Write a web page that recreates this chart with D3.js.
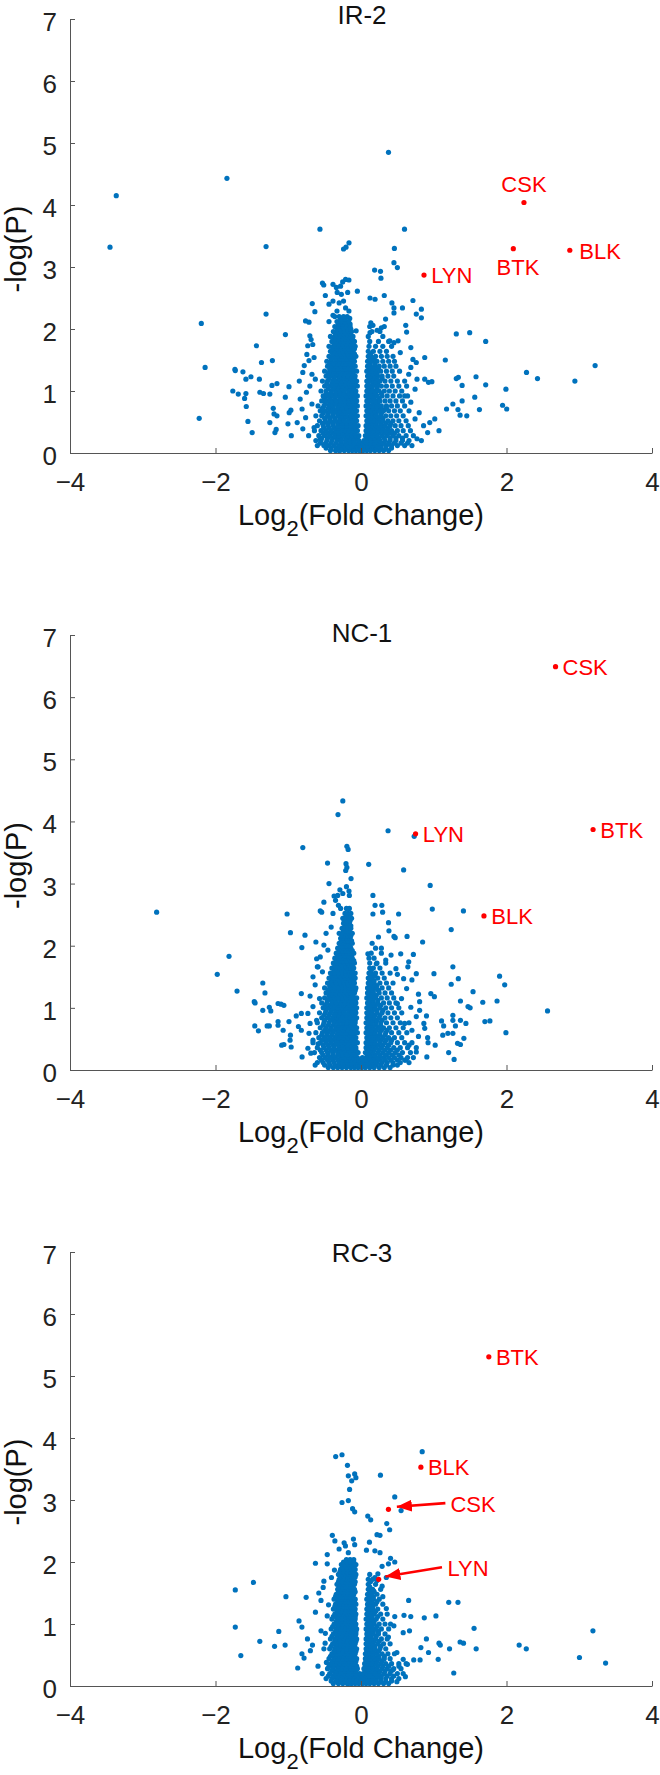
<!DOCTYPE html>
<html>
<head>
<meta charset="utf-8">
<script src="https://cdn.jsdelivr.net/npm/d3@7"></script>
<style>
  body { margin: 0; background: #fff; }
  text { font-family: "Liberation Sans", Arial, Helvetica, sans-serif; }
</style>
</head>
<body>
<div id="chart"></div>
<script>
// Axis ticks shared by all three panels
const xTicks = [-4, -2, 0, 2, 4];
const yTicks = [0, 1, 2, 3, 4, 5, 6, 7];

// ---------- IR-2 ----------
// scattered points [log2FC, -logP]
const ir2Scatter = [
  [-3.364,4.15],[-3.45,3.32],[-1.843,4.43],[0.378,4.85],[-0.564,3.61],[0.598,3.61],[-1.305,3.33],
  [-0.24,3.29],[-0.206,3.32],[-0.165,3.39],[0.459,3.30],[0.453,3.07],[0.5,2.99],[0.187,2.95],[0.268,2.93],[0.274,2.82],
  [-1.305,2.24],[-2.195,2.09],[-2.143,1.38],[-2.224,0.56],[-1.039,1.91],[-1.438,1.73],
  [1.31,1.92],[1.494,1.94],[1.714,1.80],[1.159,1.50],[0.876,1.54],[3.218,1.41],[2.275,1.30],[2.426,1.20],[2.94,1.16],
  [1.992,1.03],[2.003,0.71],[1.946,0.77],[1.714,1.10],[1.581,1.23],[1.564,0.90],[1.628,0.70],[1.39,1.09],[1.31,1.20],
  [1.338,1.22],[1.39,0.84],[1.263,0.79],[1.333,0.70],[1.362,0.61],[1.454,0.60],[1.176,0.71],[1.072,0.36],[0.974,1.15],
  [0.928,1.14],[0.876,1.19],[1.014,0.55],[0.945,0.49],
  [-1.762,1.00],[-1.687,0.95],[-1.733,1.35],[-1.728,1.33],[-1.623,1.31],[-1.582,1.19],[-1.513,1.23],[-1.582,0.96],
  [-1.6,0.88],[-1.577,0.75],[-1.554,0.51],[-1.496,0.33],[-1.397,1.19],[-1.368,1.46],[-1.39,0.98],[-1.34,0.96],
  [-1.218,1.49],[-1.253,0.95],[-1.224,1.09],[-1.155,1.12],[-1.206,0.72],[-1.195,0.63],[-1.155,0.60],[-1.253,0.49],
  [-1.166,0.38],[-1.183,0.33],[-1.004,0.47],[-0.987,0.65],[-0.964,0.69],[-1.04,0.90],[-0.99,1.07],[-0.958,0.28],
  [-0.848,1.16],[-0.81,0.71],[-0.762,2.13],[-0.715,2.11],[-0.67,2.41],[-0.634,2.28],
  [-0.53,2.74],[-0.512,2.71],[-0.385,2.72],[-0.339,2.67],[-0.281,2.69],[-0.252,2.76],[-0.212,2.80],[-0.166,2.79],
  [-0.327,2.59],[-0.27,2.56],[-0.183,2.59],[-0.49,2.54],[-0.44,2.40],[-0.385,2.45],[-0.3,2.42],[-0.24,2.45],
  [-0.212,2.34],[-0.166,2.29],[-0.05,2.61],[-0.155,2.17],[-0.067,1.97],[-0.385,2.22],[-0.33,2.29],
  [0.124,2.5],[0.193,2.48],[0.32,2.54],[0.425,2.42],[0.453,2.34],[0.453,2.26],[0.57,2.34],[0.714,2.46],[0.76,2.24],
  [0.83,2.32],[0.83,2.18],[0.28,2.02],[0.135,2.10],[0.164,2.06],[0.338,2.16],[0.615,2.06],[0.627,1.95],[0.124,1.94],
  [0.222,1.98],[0.396,1.81],[0.453,1.78],[0.51,1.81],[0.685,1.70],[0.54,1.62],[0.714,1.51],[0.76,1.46],[0.685,1.38],
  [0.656,1.27],[0.77,1.19],[0.627,1.08],[0.743,1.03],[0.6,0.92],[0.685,0.82],[0.8,0.65],[0.743,0.55],[0.86,0.44],
  [0.916,0.33],[0.77,0.23],[0.83,0.2],
  [-0.703,1.89],[-0.686,1.83],[-0.663,1.75],[-0.732,1.73],[-0.744,1.59],[-0.645,1.54],[-0.715,1.49],[-0.78,1.41],
  [-0.8,1.30],[-0.674,1.27],[-0.628,1.19],[-0.703,1.08],[-0.75,0.98],[-0.836,0.87],[-0.674,0.79],[-0.761,0.57],
  [-0.877,0.49],[-0.8,0.39],[-0.72,0.28],[-0.645,0.41],[-0.56,0.23],[-0.5,0.14],[-0.3,0.04]
];
// dense core, one row per -logP level: [y, x, x, ...]
const ir2Core = [
  [0.04,-0.42,-0.35,-0.29,-0.23,-0.17,-0.12,-0.07,-0.02,0.03,0.08,0.13,0.19,0.25,0.31,0.38],
  [0.08,-0.48,-0.41,-0.34,-0.27,-0.21,-0.15,-0.1,-0.05,0,0.05,0.1,0.15,0.21,0.27,0.34,0.42],
  [0.12,-0.6,-0.51,-0.44,-0.37,-0.3,-0.24,-0.18,-0.12,-0.06,0,0.05,0.1,0.16,0.22,0.28,0.35,0.42,0.5,0.6,0.7],
  [0.16,-0.56,-0.48,-0.41,-0.34,-0.27,-0.21,-0.15,-0.09,-0.03,0.02,0.07,0.13,0.19,0.25,0.31,0.38,0.46,0.55,0.64],
  [0.2,-0.62,-0.55,-0.47,-0.4,-0.33,-0.27,-0.21,-0.15,-0.09,-0.03,0.04,0.09,0.14,0.2,0.26,0.33,0.4,0.48,0.57,0.66],
  [0.24,-0.54,-0.46,-0.39,-0.33,-0.27,-0.21,-0.15,-0.1,-0.05,0.08,0.13,0.19,0.25,0.32,0.4,0.48,0.57],
  [0.28,-0.58,-0.5,-0.43,-0.36,-0.3,-0.24,-0.18,-0.12,-0.07,-0.03,0.06,0.11,0.16,0.22,0.29,0.36,0.44,0.52,0.62,0.72],
  [0.32,-0.52,-0.45,-0.38,-0.31,-0.25,-0.19,-0.13,-0.08,0.09,0.14,0.19,0.25,0.32,0.39,0.46],
  [0.36,-0.64,-0.55,-0.48,-0.41,-0.34,-0.28,-0.22,-0.16,-0.1,-0.05,0.07,0.12,0.17,0.23,0.29,0.35,0.42,0.5,0.58,0.68],
  [0.4,-0.51,-0.44,-0.37,-0.31,-0.25,-0.19,-0.13,-0.07,0.09,0.14,0.19,0.24,0.3,0.37],
  [0.44,-0.6,-0.52,-0.45,-0.38,-0.31,-0.25,-0.19,-0.13,-0.08,-0.04,0.07,0.11,0.16,0.21,0.27,0.33,0.4,0.47,0.55,0.65],
  [0.48,-0.53,-0.46,-0.39,-0.32,-0.26,-0.2,-0.14,-0.09,0.1,0.14,0.2,0.27,0.34,0.41],
  [0.52,-0.57,-0.49,-0.42,-0.35,-0.29,-0.23,-0.17,-0.11,-0.06,0.08,0.12,0.18,0.24,0.3,0.37,0.44,0.52,0.62],
  [0.56,-0.5,-0.43,-0.36,-0.29,-0.23,-0.17,-0.12,-0.08,0.1,0.14,0.19,0.24,0.3],
  [0.6,-0.62,-0.54,-0.46,-0.39,-0.32,-0.26,-0.2,-0.14,-0.09,-0.05,0.07,0.11,0.16,0.21,0.27,0.34,0.41,0.49,0.58],
  [0.64,-0.52,-0.45,-0.38,-0.32,-0.26,-0.2,-0.14,-0.09,0.1,0.15,0.21,0.28],
  [0.68,-0.56,-0.49,-0.42,-0.35,-0.29,-0.23,-0.17,-0.11,-0.06,0.08,0.13,0.19,0.25,0.31,0.38,0.46,0.54,0.66],
  [0.72,-0.53,-0.45,-0.39,-0.32,-0.26,-0.2,-0.14,-0.09,0.1,0.16,0.22,0.28,0.35],
  [0.76,-0.59,-0.51,-0.44,-0.38,-0.32,-0.26,-0.2,-0.14,-0.09,-0.05,0.07,0.11,0.16,0.22,0.28,0.35,0.42,0.5,0.6],
  [0.8,-0.49,-0.42,-0.35,-0.29,-0.23,-0.17,-0.12,-0.08,0.1,0.17,0.23],
  [0.84,-0.54,-0.47,-0.4,-0.34,-0.28,-0.22,-0.16,-0.11,-0.06,0.08,0.14,0.2,0.26,0.33,0.4,0.48,0.57],
  [0.88,-0.5,-0.43,-0.36,-0.29,-0.23,-0.17,-0.12,-0.08,0.1,0.13,0.18,0.25],
  [0.92,-0.52,-0.45,-0.38,-0.32,-0.26,-0.2,-0.14,-0.09,-0.05,0.07,0.11,0.16,0.22,0.29,0.36,0.44,0.53,0.64],
  [0.96,-0.48,-0.42,-0.35,-0.29,-0.23,-0.17,-0.12,-0.08,0.1,0.14,0.2,0.28],
  [1.0,-0.55,-0.48,-0.41,-0.35,-0.29,-0.23,-0.17,-0.12,-0.07,0.08,0.13,0.19,0.25,0.32,0.39,0.47,0.56],
  [1.04,-0.45,-0.38,-0.32,-0.26,-0.2,-0.15,-0.1,0.1,0.15,0.22],
  [1.08,-0.5,-0.43,-0.37,-0.31,-0.25,-0.19,-0.14,-0.09,-0.05,0.08,0.11,0.16,0.22,0.28,0.35,0.43,0.52],
  [1.12,-0.47,-0.4,-0.34,-0.28,-0.22,-0.17,-0.12,-0.08,0.1,0.17,0.23],
  [1.16,-0.53,-0.46,-0.39,-0.33,-0.27,-0.21,-0.16,-0.11,-0.06,0.08,0.14,0.2,0.26,0.33,0.41,0.5,0.6],
  [1.2,-0.44,-0.37,-0.3,-0.24,-0.19,-0.14,-0.09,0.11,0.16,0.22,0.29],
  [1.24,-0.48,-0.41,-0.35,-0.29,-0.23,-0.18,-0.13,-0.08,0.09,0.13,0.18,0.23,0.29,0.37,0.45],
  [1.28,-0.45,-0.39,-0.33,-0.27,-0.21,-0.16,-0.11,0.11,0.16,0.22],
  [1.32,-0.5,-0.43,-0.37,-0.31,-0.25,-0.19,-0.14,-0.1,-0.06,0.08,0.14,0.2,0.27,0.35,0.43,0.53],
  [1.36,-0.43,-0.37,-0.31,-0.25,-0.2,-0.15,-0.11,0.11,0.17,0.24],
  [1.4,-0.46,-0.4,-0.34,-0.28,-0.22,-0.17,-0.12,-0.08,0.09,0.13,0.19,0.25,0.32,0.4,0.48],
  [1.44,-0.43,-0.37,-0.31,-0.25,-0.2,-0.15,-0.11,0.12,0.19],
  [1.48,-0.47,-0.41,-0.35,-0.29,-0.23,-0.18,-0.13,-0.09,0.09,0.15,0.22,0.3,0.38,0.46],
  [1.52,-0.41,-0.35,-0.29,-0.24,-0.19,-0.14,-0.1,0.12,0.18],
  [1.56,-0.44,-0.38,-0.32,-0.26,-0.21,-0.16,-0.11,-0.07,0.1,0.14,0.2,0.28,0.36,0.44],
  [1.6,-0.39,-0.33,-0.28,-0.23,-0.18,-0.13,-0.09,0.13],
  [1.64,-0.42,-0.36,-0.3,-0.25,-0.2,-0.15,-0.11,0.1,0.17,0.26,0.35],
  [1.68,-0.39,-0.33,-0.27,-0.22,-0.17,-0.13,-0.09],
  [1.72,-0.44,-0.38,-0.32,-0.27,-0.22,-0.17,-0.12,-0.08,0.11,0.2,0.3,0.42],
  [1.76,-0.37,-0.31,-0.25,-0.2,-0.15,-0.11],
  [1.8,-0.4,-0.34,-0.28,-0.23,-0.18,-0.13,-0.09,0.12,0.24,0.38],
  [1.84,-0.37,-0.31,-0.26,-0.21,-0.16,-0.12],
  [1.88,-0.42,-0.36,-0.3,-0.25,-0.2,-0.15,-0.11,0.1,0.3],
  [1.92,-0.35,-0.29,-0.24,-0.19,-0.15],
  [1.96,-0.38,-0.32,-0.27,-0.22,-0.17,-0.13,0.15,0.26],
  [2.0,-0.33,-0.28,-0.23,-0.18,-0.14],
  [2.04,-0.36,-0.3,-0.25,-0.2,-0.15,0.12,0.32],
  [2.08,-0.31,-0.25,-0.2,-0.15],
  [2.12,-0.44,-0.33,-0.27,-0.22,-0.17],
  [2.16,-0.28,-0.22],
  [2.2,-0.36,-0.3,-0.24,-0.19]
];
// highlighted kinases: [gene, log2FC, -logP]
const ir2Genes = [["CSK",2.24,4.04],["BTK",2.094,3.295],["BLK",2.87,3.27],["LYN",0.866,2.87]];

// ---------- NC-1 ----------
const nc1Scatter = [
  [-2.809,2.54],[-1.814,1.83],[-1.976,1.54],[-1.704,1.27],[-1.467,1.10],[-1.456,1.08],[-1.46,0.71],[-1.41,0.63],
  [-1.35,1.40],[-1.32,1.24],[-1.35,0.96],[-1.26,1.01],[-1.24,0.95],[-1.29,0.71],[-1.26,0.71],[-1.14,1.07],[-1.10,1.06],
  [-1.06,1.04],[-1.14,0.78],[-1.14,0.72],[-1.07,0.64],[-1.09,0.40],[-1.06,0.41],[-1.016,2.51],[-0.97,2.21],
  [-0.99,0.78],[-0.97,0.56],[-0.975,0.48],[-0.96,0.37],[-0.813,1.97],[-0.8,3.58],[-0.77,2.17],[-0.89,0.87],[-0.82,0.91],
  [-0.86,0.70],[-0.82,0.64],[-0.82,1.23],[-0.81,0.21],[-0.7,1.19],[-0.7,0.75],[-0.66,0.48],[-0.73,0.35],[-0.62,2.06],
  [-0.61,1.79],[-0.59,1.66],[-0.56,2.56],[-0.54,2.54],[-0.51,2.70],[-0.46,3.33],[-0.44,3.00],[-0.37,2.80],[-0.32,2.81],
  [-0.29,2.90],[-0.25,2.84],[-0.316,4.11],[-0.25,4.33],[-0.194,3.60],[-0.177,3.55],[-0.206,3.32],[-0.194,3.26],
  [-0.21,3.21],[-0.2,2.95],[-0.165,2.88],[-0.16,2.81],[-0.137,3.08],[0.372,3.85],[0.106,3.31],[0.586,3.22],[0.731,3.76],
  [0.951,2.97],[0.98,2.59],[1.408,2.56],[1.24,2.26],[0.517,2.51],[0.164,2.81],[0.193,2.65],[0.164,2.51],[0.286,2.65],
  [0.297,2.54],[0.633,2.15],[0.847,2.06],[0.72,1.86],[0.378,2.37],[0.384,2.24],[0.453,2.15],[0.47,2.13],[0.48,1.63],
  [0.5,1.54],[0.656,1.74],[0.644,1.66],[0.76,1.55],[0.79,1.22],[0.806,1.10],[0.806,0.96],[0.96,1.23],[1.009,1.18],
  [1.003,1.55],[0.9,0.87],[0.864,0.75],[0.876,0.67],[0.916,0.52],[0.922,0.44],[0.905,0.21],[1.02,0.40],[1.107,0.79],
  [1.136,0.71],[1.194,0.59],[1.124,0.56],[1.205,0.28],[1.28,0.17],[1.263,1.66],[1.338,1.47],[1.24,1.38],[1.367,1.11],
  [1.471,1.02],[1.5,1.00],[1.54,1.26],[1.263,0.88],[1.263,0.80],[1.298,0.71],[1.263,0.59],[1.367,0.80],[1.442,0.75],
  [1.414,0.51],[1.327,0.43],[1.367,0.41],[1.674,1.09],[1.87,1.11],[1.703,0.78],[1.772,0.79],[1.905,1.51],[1.975,1.37],
  [1.992,0.60],[2.564,0.95],
  [-0.35,2.73],[-0.31,2.65],[-0.28,2.60],[-0.385,2.52],[-0.41,2.30],[-0.48,2.20],[-0.51,2.01],[-0.455,1.93],[-0.56,1.82],
  [-0.6,1.66],[-0.66,1.50],[-0.53,1.58],[-0.63,1.37],[-0.57,1.15],[-0.66,1.02],[-0.73,0.91],[-0.61,0.80],[-0.715,0.59],
  [-0.59,0.42],[-0.69,0.27],[-0.54,0.16],[-0.63,0.08],
  [0.095,1.87],[0.153,2.04],[0.24,2.14],[0.28,1.96],[0.34,1.77],[0.21,1.71],[0.413,1.85],[0.546,1.87],[0.586,1.47],
  [0.627,1.31],[0.7,1.45],[0.557,1.15],[0.685,1.01],[0.76,0.86],[0.6,0.75],[0.7,0.64],[0.79,0.54],[0.66,0.40],
  [0.76,0.29],[0.615,0.16],[0.5,0.08],[0.41,0.48],[0.5,1.07]
];
const nc1Core = [
  [0.04,-0.45,-0.38,-0.32,-0.26,-0.2,-0.14,-0.09,-0.04,0.01,0.06,0.12,0.18,0.25,0.32,0.4],
  [0.08,-0.5,-0.43,-0.36,-0.3,-0.24,-0.18,-0.12,-0.07,-0.02,0.03,0.08,0.14,0.2,0.27,0.35,0.44],
  [0.12,-0.6,-0.52,-0.44,-0.37,-0.3,-0.24,-0.18,-0.12,-0.06,0,0.05,0.1,0.16,0.22,0.29,0.36,0.44,0.54,0.66],
  [0.16,-0.54,-0.46,-0.39,-0.32,-0.26,-0.2,-0.14,-0.08,-0.03,0.03,0.08,0.14,0.2,0.26,0.33,0.41,0.5,0.6],
  [0.2,-0.57,-0.49,-0.42,-0.35,-0.28,-0.22,-0.16,-0.1,-0.05,0.02,0.07,0.12,0.18,0.24,0.31,0.38,0.46,0.55,0.64,0.72],
  [0.24,-0.52,-0.45,-0.38,-0.31,-0.25,-0.19,-0.13,-0.08,0.09,0.13,0.19,0.26,0.34,0.43,0.52],
  [0.28,-0.64,-0.54,-0.46,-0.39,-0.32,-0.26,-0.2,-0.14,-0.09,-0.04,0.06,0.1,0.16,0.23,0.3,0.38,0.47,0.57,0.68],
  [0.32,-0.56,-0.48,-0.41,-0.35,-0.29,-0.23,-0.17,-0.11,-0.07,0.09,0.13,0.18,0.25,0.33,0.41,0.5],
  [0.36,-0.6,-0.51,-0.44,-0.37,-0.3,-0.24,-0.18,-0.12,-0.07,0.07,0.11,0.15,0.21,0.28,0.36,0.45,0.54,0.64,0.76],
  [0.4,-0.52,-0.45,-0.38,-0.31,-0.25,-0.19,-0.14,-0.09,0.09,0.13,0.17,0.23,0.3,0.38],
  [0.44,-0.66,-0.56,-0.48,-0.41,-0.34,-0.28,-0.22,-0.16,-0.1,-0.05,0.07,0.1,0.14,0.19,0.26,0.33,0.41,0.5,0.6,0.7],
  [0.48,-0.53,-0.46,-0.39,-0.32,-0.26,-0.2,-0.14,-0.09,0.1,0.15,0.2,0.27,0.34,0.42],
  [0.52,-0.58,-0.5,-0.43,-0.36,-0.3,-0.24,-0.18,-0.12,-0.07,0.08,0.12,0.17,0.23,0.3,0.38,0.46,0.56],
  [0.56,-0.54,-0.47,-0.4,-0.33,-0.27,-0.21,-0.15,-0.1,0.1,0.14,0.2,0.26,0.33],
  [0.6,-0.62,-0.53,-0.46,-0.39,-0.32,-0.26,-0.2,-0.14,-0.09,-0.05,0.07,0.1,0.14,0.19,0.26,0.34,0.42,0.52,0.63],
  [0.64,-0.5,-0.43,-0.36,-0.3,-0.24,-0.18,-0.13,-0.08,0.1,0.15,0.21,0.28,0.36],
  [0.68,-0.56,-0.48,-0.41,-0.34,-0.28,-0.22,-0.16,-0.11,-0.06,0.08,0.12,0.17,0.24,0.31,0.39,0.48,0.58],
  [0.72,-0.52,-0.45,-0.38,-0.31,-0.25,-0.19,-0.14,-0.09,0.1,0.14,0.2,0.27],
  [0.76,-0.6,-0.51,-0.44,-0.37,-0.31,-0.25,-0.19,-0.13,-0.08,0.07,0.1,0.14,0.2,0.27,0.35,0.44,0.54,0.66],
  [0.8,-0.5,-0.42,-0.36,-0.3,-0.24,-0.18,-0.13,-0.08,0.1,0.16,0.22,0.29],
  [0.84,-0.54,-0.46,-0.39,-0.33,-0.27,-0.21,-0.15,-0.1,-0.06,0.08,0.13,0.18,0.25,0.33,0.41,0.5],
  [0.88,-0.51,-0.44,-0.37,-0.31,-0.25,-0.19,-0.14,-0.09,0.1,0.13,0.19,0.26],
  [0.92,-0.57,-0.49,-0.42,-0.35,-0.29,-0.23,-0.17,-0.12,-0.07,0.08,0.11,0.15,0.22,0.29,0.37,0.46,0.56],
  [0.96,-0.48,-0.41,-0.35,-0.29,-0.23,-0.17,-0.12,-0.08,0.11,0.16,0.22,0.3],
  [1.0,-0.52,-0.45,-0.38,-0.32,-0.26,-0.2,-0.15,-0.1,-0.06,0.08,0.13,0.19,0.26,0.34,0.42,0.52],
  [1.04,-0.49,-0.42,-0.36,-0.3,-0.24,-0.18,-0.13,-0.09,0.11,0.15,0.2,0.27],
  [1.08,-0.54,-0.47,-0.4,-0.34,-0.28,-0.22,-0.17,-0.12,-0.07,0.09,0.12,0.17,0.23,0.31,0.39,0.48],
  [1.12,-0.46,-0.4,-0.34,-0.28,-0.22,-0.17,-0.12,-0.08,0.11,0.16,0.23],
  [1.16,-0.5,-0.43,-0.37,-0.31,-0.25,-0.2,-0.15,-0.1,-0.06,0.08,0.13,0.2,0.28,0.36,0.45],
  [1.2,-0.44,-0.38,-0.32,-0.26,-0.21,-0.16,-0.11,0.11,0.15,0.21],
  [1.24,-0.48,-0.41,-0.35,-0.29,-0.24,-0.19,-0.14,-0.09,0.09,0.12,0.17,0.25,0.33,0.42],
  [1.28,-0.45,-0.39,-0.33,-0.27,-0.22,-0.17,-0.12,-0.08,0.11,0.17,0.24],
  [1.32,-0.5,-0.43,-0.37,-0.31,-0.26,-0.21,-0.16,-0.11,-0.07,0.09,0.14,0.21,0.29,0.38],
  [1.36,-0.43,-0.37,-0.31,-0.26,-0.21,-0.16,-0.11,0.12,0.16,0.22],
  [1.4,-0.46,-0.4,-0.34,-0.28,-0.23,-0.18,-0.13,-0.09,0.1,0.13,0.18,0.26,0.35,0.44],
  [1.44,-0.41,-0.35,-0.29,-0.24,-0.19,-0.14,-0.1,0.12,0.18],
  [1.48,-0.44,-0.38,-0.32,-0.27,-0.22,-0.17,-0.12,-0.08,0.1,0.15,0.23,0.32],
  [1.52,-0.4,-0.34,-0.29,-0.24,-0.19,-0.14,-0.1,0.13,0.19],
  [1.56,-0.42,-0.36,-0.31,-0.26,-0.21,-0.16,-0.12,-0.08,0.11,0.14,0.2,0.29,0.4],
  [1.6,-0.37,-0.31,-0.26,-0.21,-0.17,-0.12,0.14],
  [1.64,-0.4,-0.34,-0.29,-0.24,-0.19,-0.14,-0.1,0.12,0.17,0.26],
  [1.68,-0.36,-0.31,-0.26,-0.21,-0.16,-0.12],
  [1.72,-0.38,-0.33,-0.28,-0.23,-0.18,-0.13,-0.09,0.12,0.22,0.34],
  [1.76,-0.34,-0.29,-0.24,-0.19,-0.14,-0.1],
  [1.8,-0.36,-0.31,-0.26,-0.21,-0.16,-0.12,0.11,0.18],
  [1.84,-0.32,-0.27,-0.22,-0.17,-0.13],
  [1.88,-0.34,-0.29,-0.24,-0.19,-0.15,-0.1,0.14,0.28],
  [1.92,-0.3,-0.25,-0.2,-0.16,-0.12],
  [1.96,-0.32,-0.27,-0.23,-0.18,-0.14,0.2],
  [2.0,-0.28,-0.24,-0.19,-0.15],
  [2.04,-0.3,-0.26,-0.21,-0.17,-0.12],
  [2.08,-0.27,-0.22,-0.18,-0.13],
  [2.12,-0.28,-0.24,-0.2,-0.15],
  [2.16,-0.26,-0.22,-0.18,-0.14],
  [2.2,-0.3,-0.25,-0.21,-0.16,-0.12],
  [2.24,-0.24,-0.2,-0.16],
  [2.28,-0.26,-0.22,-0.18,-0.14],
  [2.32,-0.22,-0.18,-0.14],
  [2.36,-0.24,-0.2,-0.16],
  [2.4,-0.23,-0.19,-0.15],
  [2.44,-0.25,-0.21,-0.17,-0.13],
  [2.48,-0.2,-0.16],
  [2.52,-0.22,-0.18,-0.14],
  [2.6,-0.2,-0.16]
];
const nc1Genes = [["CSK",2.674,6.49],["BTK",3.19,3.87],["LYN",0.75,3.80],["BLK",1.69,2.48]];

// ---------- RC-3 ----------
const rc3Scatter = [
  [0.841,3.78],[-0.348,3.70],[-0.261,3.73],[-0.186,3.56],[-0.174,3.39],[-0.087,3.42],[-0.07,3.36],[-0.128,3.31],
  [0.267,3.40],[-0.157,3.17],[0.464,3.05],[0.551,2.83],[-0.261,2.96],[-0.174,2.99],[-0.116,2.86],[-0.087,2.81],
  [0.093,2.74],[0.133,2.68],[0.354,2.62],[0.394,2.52],[-0.394,2.43],[-0.359,2.34],[-0.301,2.21],[-0.232,2.31],
  [-0.214,2.26],[-0.174,2.15],[-0.104,2.37],[-0.087,2.28],[0.116,2.32],[0.22,2.44],[0.261,2.43],[0.191,2.18],
  [0.261,2.15],[0.075,2.19],[0.406,2.06],[0.464,2.00],[0.377,1.97],[-0.626,1.98],[-0.464,1.97],[-1.478,1.67],
  [-1.728,1.55],[-1.032,1.44],[-0.754,1.43],[-0.51,1.69],[-0.52,1.59],[-0.58,1.50],[-0.55,1.38],[-0.626,1.19],
  [-0.852,1.05],[-0.812,0.95],[-1.13,0.88],[-1.728,0.95],[-1.391,0.72],[-1.188,0.64],[-1.043,0.66],[-1.652,0.49],
  [-0.87,0.29],[-0.812,0.52],[-0.783,0.45],[-0.696,0.57],[-0.736,0.76],[-0.667,0.66],[-0.591,0.32],[-0.533,0.20],
  [-0.55,0.89],[-0.49,0.85],[-0.51,0.60],
  [0.655,1.38],[0.591,1.14],[0.684,1.12],[0.87,1.10],[1.03,1.13],[1.206,1.35],[1.333,1.35],[1.554,0.93],[0.464,1.12],
  [0.452,0.97],[0.58,0.86],[0.667,0.89],[0.899,0.76],[1.072,0.69],[1.09,0.66],[1.217,0.60],[1.362,0.71],[1.409,0.69],
  [1.583,0.60],[0.823,0.62],[0.928,0.54],[1.061,0.43],[0.812,0.42],[0.725,0.42],[1.275,0.21],[0.493,0.07],[0.58,0.43],
  [0.638,0.35],[2.174,0.66],[2.272,0.60],[3.003,0.46],[3.188,0.89],[3.362,0.37],[0.29,1.93],[0.232,1.81],[0.191,1.75],
  [0.29,1.61],[0.22,1.70],
  [-0.464,2.12],[-0.365,1.87],[-0.406,1.75],[-0.446,1.31],[-0.464,1.13],[-0.493,0.69],[-0.475,0.38],[-0.348,0.14],
  [-0.377,0.32],[-0.174,0.04],[0.435,0.26],[0.493,0.54],[0.377,0.79],[0.406,1.0],[0.348,1.25],[0.3,1.44],[0.174,1.53],
  [0.348,1.75],[0.522,0.32],[0.61,0.15]
];
const rc3Core = [
  [0.04,-0.38,-0.31,-0.25,-0.19,-0.13,-0.08,-0.03,0.02,0.07,0.12,0.18,0.24,0.31,0.38],
  [0.08,-0.41,-0.34,-0.28,-0.22,-0.16,-0.11,-0.06,-0.01,0.04,0.09,0.14,0.2,0.27,0.34,0.42],
  [0.12,-0.48,-0.4,-0.33,-0.27,-0.21,-0.15,-0.1,-0.05,0,0.05,0.1,0.15,0.21,0.27,0.34,0.42,0.52],
  [0.16,-0.45,-0.38,-0.32,-0.26,-0.2,-0.14,-0.09,-0.04,0.01,0.06,0.11,0.16,0.22,0.28,0.36,0.45],
  [0.2,-0.43,-0.36,-0.3,-0.24,-0.18,-0.12,-0.07,-0.02,0.03,0.08,0.13,0.19,0.25,0.32,0.4,0.5,0.58],
  [0.24,-0.4,-0.34,-0.28,-0.22,-0.17,-0.11,-0.07,0.06,0.1,0.15,0.2,0.26,0.33,0.41],
  [0.28,-0.46,-0.39,-0.32,-0.26,-0.2,-0.14,-0.09,-0.05,0.04,0.08,0.12,0.17,0.22,0.29,0.36,0.45,0.55],
  [0.32,-0.44,-0.37,-0.31,-0.25,-0.19,-0.14,-0.1,-0.06,0.06,0.11,0.16,0.23,0.3,0.38],
  [0.36,-0.42,-0.35,-0.29,-0.23,-0.17,-0.12,-0.08,0.05,0.09,0.14,0.2,0.27,0.34,0.42,0.52,0.62],
  [0.4,-0.39,-0.33,-0.27,-0.21,-0.16,-0.11,-0.07,0.07,0.11,0.16,0.22,0.29],
  [0.44,-0.44,-0.37,-0.31,-0.25,-0.19,-0.14,-0.09,-0.06,0.06,0.09,0.13,0.19,0.25,0.32,0.4],
  [0.48,-0.42,-0.35,-0.29,-0.23,-0.18,-0.13,-0.09,0.08,0.12,0.17,0.24,0.32],
  [0.52,-0.4,-0.34,-0.28,-0.22,-0.17,-0.12,-0.08,0.06,0.1,0.16,0.22,0.29,0.37,0.46],
  [0.56,-0.37,-0.31,-0.25,-0.2,-0.15,-0.1,-0.07,0.08,0.12,0.17,0.24],
  [0.6,-0.43,-0.36,-0.3,-0.24,-0.19,-0.14,-0.09,-0.06,0.07,0.1,0.14,0.19,0.26,0.34],
  [0.64,-0.41,-0.34,-0.28,-0.23,-0.18,-0.13,-0.09,0.09,0.13,0.19,0.27],
  [0.68,-0.39,-0.33,-0.27,-0.21,-0.16,-0.12,-0.08,0.07,0.11,0.16,0.23,0.31,0.4],
  [0.72,-0.36,-0.3,-0.24,-0.19,-0.14,-0.1,-0.07,0.09,0.13,0.18,0.25],
  [0.76,-0.42,-0.35,-0.29,-0.23,-0.18,-0.13,-0.09,-0.06,0.07,0.1,0.14,0.2,0.28,0.36],
  [0.8,-0.4,-0.33,-0.27,-0.21,-0.16,-0.12,-0.08,0.09,0.14,0.21],
  [0.84,-0.38,-0.32,-0.26,-0.2,-0.15,-0.11,-0.07,0.08,0.12,0.17,0.24,0.33],
  [0.88,-0.35,-0.29,-0.23,-0.18,-0.14,-0.1,-0.07,0.09,0.12,0.17,0.24],
  [0.92,-0.41,-0.34,-0.28,-0.22,-0.17,-0.13,-0.09,-0.06,0.07,0.1,0.14,0.2,0.28,0.38],
  [0.96,-0.39,-0.32,-0.26,-0.21,-0.16,-0.12,-0.08,0.1,0.15,0.22],
  [1.0,-0.37,-0.31,-0.25,-0.19,-0.15,-0.11,-0.07,0.08,0.12,0.18,0.25,0.33],
  [1.04,-0.34,-0.28,-0.22,-0.17,-0.13,-0.09,0.1,0.13,0.18],
  [1.08,-0.4,-0.33,-0.27,-0.21,-0.16,-0.12,-0.08,0.07,0.1,0.15,0.21,0.3],
  [1.12,-0.38,-0.32,-0.26,-0.21,-0.16,-0.12,-0.08,0.1,0.15,0.23],
  [1.16,-0.36,-0.3,-0.24,-0.19,-0.15,-0.11,-0.07,0.08,0.12,0.18,0.27,0.36],
  [1.2,-0.33,-0.27,-0.22,-0.17,-0.13,-0.09,0.1,0.14,0.2],
  [1.24,-0.38,-0.32,-0.26,-0.21,-0.16,-0.12,-0.08,0.08,0.11,0.16,0.23],
  [1.28,-0.36,-0.3,-0.24,-0.19,-0.14,-0.1,0.1,0.16],
  [1.32,-0.35,-0.29,-0.24,-0.19,-0.15,-0.11,-0.07,0.09,0.13,0.2,0.3],
  [1.36,-0.32,-0.27,-0.22,-0.17,-0.13,-0.09,0.11,0.15,0.22],
  [1.4,-0.37,-0.31,-0.26,-0.21,-0.16,-0.12,-0.08,0.08,0.11,0.17,0.25],
  [1.44,-0.35,-0.29,-0.24,-0.19,-0.15,-0.11,0.11,0.17],
  [1.48,-0.34,-0.28,-0.23,-0.18,-0.14,-0.1,0.09,0.14,0.22],
  [1.52,-0.31,-0.26,-0.21,-0.16,-0.12,-0.08,0.12,0.18],
  [1.56,-0.32,-0.27,-0.22,-0.17,-0.13,-0.09,0.1,0.16,0.27],
  [1.6,-0.3,-0.25,-0.2,-0.15,-0.11,0.12],
  [1.64,-0.33,-0.28,-0.23,-0.18,-0.13,-0.09,0.1,0.2],
  [1.68,-0.31,-0.26,-0.21,-0.16,-0.12,-0.08,0.13],
  [1.72,-0.3,-0.25,-0.2,-0.15,-0.1,0.1,0.16],
  [1.76,-0.28,-0.23,-0.18,-0.13,-0.08],
  [1.8,-0.31,-0.26,-0.21,-0.16,-0.11,-0.07,0.12],
  [1.84,-0.29,-0.24,-0.19,-0.14,-0.1],
  [1.88,-0.28,-0.23,-0.18,-0.13,-0.08],
  [1.92,-0.25,-0.2,-0.15,-0.1],
  [1.96,-0.27,-0.22,-0.17,-0.12,-0.07],
  [2.0,-0.24,-0.19,-0.14,-0.1],
  [2.04,-0.2,-0.15,-0.1]
];
const rc3Genes = [["BTK",1.757,5.31],["BLK",0.823,3.53],["CSK",0.377,2.85],["LYN",0.243,1.72]];

// label placement per panel (data coords): [gene, x, y, anchor]
const ir2Labels = [["CSK",2.24,4.21,"middle"],["BTK",2.158,2.87,"middle"],["BLK",3.0,3.13,"start"],["LYN",0.965,2.74,"start"]];
const nc1Labels = [["CSK",2.77,6.36,"start"],["BTK",3.29,3.74,"start"],["LYN",0.85,3.67,"start"],["BLK",1.79,2.35,"start"]];
const rc3Labels = [["BTK",1.855,5.18,"start"],["BLK",0.92,3.40,"start"],["CSK",1.229,2.81,"start"],["LYN",1.188,1.78,"start"]];
// arrows [x1, y1, x2 (tip), y2 (tip)]
const rc3Arrows = [[1.16,2.95,0.493,2.89],[1.113,1.916,0.336,1.767]];

const W = 660, H = 1775;
const blue = "#0072BD", red = "#FF0000";

const svg = d3.select("#chart").append("svg")
  .attr("width", W).attr("height", H);

svg.append("defs").append("marker")
  .attr("id", "arrowhead")
  .attr("markerUnits", "userSpaceOnUse")
  .attr("markerWidth", 16).attr("markerHeight", 12)
  .attr("refX", 15).attr("refY", 6)
  .attr("orient", "auto")
  .append("path")
  .attr("d", "M0,0 L15,6 L0,12 Z")
  .attr("fill", red);

function rowsToPoints(rows) {
  return rows.flatMap(r => r.slice(1).map(x => [x, r[0]]));
}

function drawPanel(cfg) {
  const x = d3.scaleLinear().domain([-4, 4]).range([70, 652]);
  const y = d3.scaleLinear().domain([0, 7]).range([cfg.bottom, cfg.top]);
  const g = svg.append("g");

  const pts = cfg.scatter.concat(rowsToPoints(cfg.core));
  g.append("g").selectAll("circle")
    .data(pts)
    .join("circle")
    .attr("cx", d => x(d[0]))
    .attr("cy", d => y(d[1]))
    .attr("r", 2.6)
    .attr("fill", blue);

  // axes, ticks pointing inward like MATLAB
  const xAxis = g.append("g")
    .attr("transform", `translate(0,${cfg.bottom})`)
    .call(d3.axisBottom(x).tickValues(xTicks).tickFormat(d3.format("d"))
      .tickSizeInner(-5).tickSizeOuter(0).tickPadding(20));
  const yAxis = g.append("g")
    .attr("transform", "translate(70,0)")
    .call(d3.axisLeft(y).tickValues(yTicks).tickFormat(d3.format("d"))
      .tickSizeInner(-5).tickSizeOuter(0).tickPadding(13));
  [xAxis, yAxis].forEach(a => {
    a.select(".domain").attr("stroke", "#555");
    a.selectAll(".tick line").attr("stroke", "#555");
    a.selectAll(".tick text")
      .attr("fill", "#222")
      .style("font-size", "26px")
      .style("font-family", '"Liberation Sans", Arial, sans-serif');
  });
  yAxis.selectAll(".tick text").attr("dy", "0.44em");

  // red genes
  g.append("g").selectAll("circle")
    .data(cfg.genes)
    .join("circle")
    .attr("cx", d => x(d[1]))
    .attr("cy", d => y(d[2]))
    .attr("r", 2.6)
    .attr("fill", red);

  g.append("g").selectAll("text")
    .data(cfg.labels)
    .join("text")
    .attr("x", d => x(d[1]))
    .attr("y", d => y(d[2]))
    .attr("text-anchor", d => d[3])
    .attr("fill", red)
    .style("font-size", "22px")
    .text(d => d[0]);

  g.append("g").selectAll("line")
    .data(cfg.arrows || [])
    .join("line")
    .attr("x1", d => x(d[0])).attr("y1", d => y(d[1]))
    .attr("x2", d => x(d[2])).attr("y2", d => y(d[3]))
    .attr("stroke", red)
    .attr("stroke-width", 2.6)
    .attr("marker-end", "url(#arrowhead)");

  // title
  g.append("text")
    .attr("x", 362)
    .attr("y", cfg.titleY)
    .attr("text-anchor", "middle")
    .attr("fill", "#111")
    .style("font-size", "26px")
    .text(cfg.title);

  // y label
  const ymid = (cfg.top + cfg.bottom) / 2 + 13;
  g.append("text")
    .attr("transform", `translate(26,${ymid}) rotate(-90)`)
    .attr("text-anchor", "middle")
    .attr("fill", "#111")
    .style("font-size", "29px")
    .text("-log(P)");

  // x label with subscript
  const xl = g.append("text")
    .attr("x", 361)
    .attr("y", cfg.bottom + 72)
    .attr("text-anchor", "middle")
    .attr("fill", "#111")
    .style("font-size", "29px");
  xl.append("tspan").text("Log");
  xl.append("tspan").attr("dy", 11).style("font-size", "22px").text("2");
  xl.append("tspan").attr("dy", -11).text("(Fold Change)");
}

drawPanel({ title: "IR-2", titleY: 24, top: 19, bottom: 453,
  scatter: ir2Scatter, core: ir2Core, genes: ir2Genes, labels: ir2Labels });
drawPanel({ title: "NC-1", titleY: 642, top: 635, bottom: 1070,
  scatter: nc1Scatter, core: nc1Core, genes: nc1Genes, labels: nc1Labels });
drawPanel({ title: "RC-3", titleY: 1262, top: 1252, bottom: 1686,
  scatter: rc3Scatter, core: rc3Core, genes: rc3Genes, labels: rc3Labels, arrows: rc3Arrows });
</script>
</body>
</html>
